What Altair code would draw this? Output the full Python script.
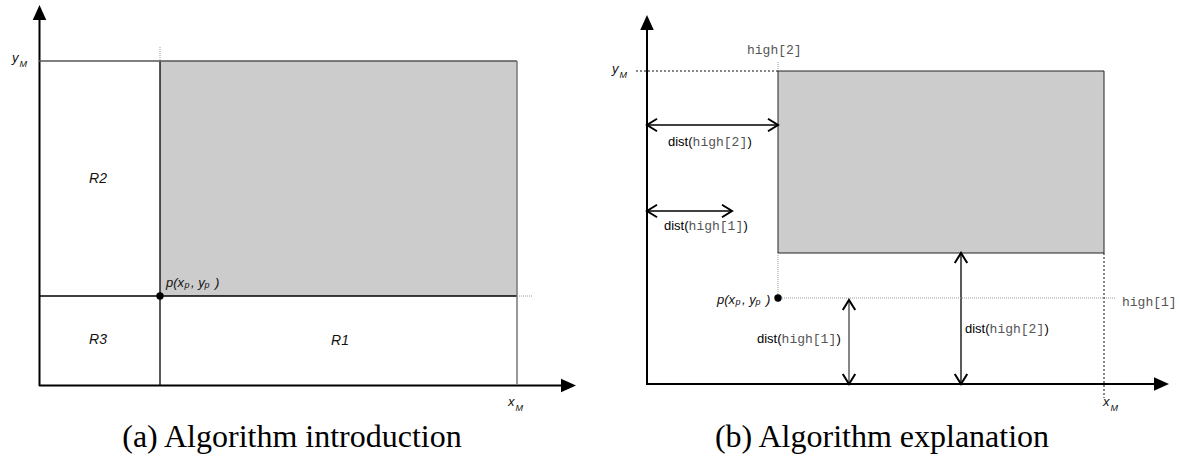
import altair as alt
import pandas as pd

W, H = 1181, 459

# ---- diagram geometry (canvas units, y grows downwards) ----
# panel (a): region split around p
a_px, a_py = 160, 296          # point p
a_xm, a_ym = 517, 61           # x_M, y_M

# panel (b): dominance distances
b_rect = [778, 71, 1104, 253]  # x1, y1, x2, y2 of the shaded box
b_px, b_py = 778, 298

# line segments: x, y, x2, y2, style
seg_x1 = [39.5, 39, 39, 39, 160, 517, 517, 160,
          647, 647, 636, 1104, 778, 778, 778, 648, 648, 849, 961]
seg_y1 = [386, 385.5, 61, 296, 61, 61, 296, 47,
          385, 384, 71, 253, 62, 253, 298, 125, 211, 301, 254]
seg_x2 = [39.5, 566, 517, 517, 160, 517, 533, 160,
          647, 1158, 778, 1104, 778, 778, 1116, 777, 731, 849, 961]
seg_y2 = [15, 385.5, 61, 296, 385, 385, 296, 61,
          25, 384, 71, 398, 71, 298, 298, 125, 211, 383, 383]
seg_style = ["axis", "axis", "gray", "solid", "solid", "lgray", "dotlight", "dotlight",
             "axis", "axis", "dotdark", "dotdark", "dotlight", "dotlight", "dotlight",
             "solid", "solid", "mid", "solid"]

# filled arrow heads on the axes: tip x, tip y, angle
head_x = [39.5, 576, 647, 1169]
head_y = [5, 385.5, 15, 384]
head_a = [270, 0, 270, 0]

# open arrow heads of the distance arrows: tip x, tip y, angle
chev_x = [647, 778, 647, 732, 849, 849, 961, 961]
chev_y = [125, 125, 211, 211, 300, 384, 253, 384]
chev_a = [0, 180, 0, 180, 90, 270, 90, 270]

# region labels
reg_text = ["R2", "R3", "R1"]
reg_x = [98, 98, 340]
reg_y = [179, 340, 341]

# dist(...) labels: left x, centre y, argument
dist_x = [668, 664, 757, 965]
dist_y = [142, 226, 339, 329]
dist_arg = ["high[2]", "high[1]", "high[1]", "high[2]"]

# standalone identifiers
ident_text = ["high[2]", "high[1]"]
ident_x = [747, 1122]
ident_y = [50, 302]

# p(x_p , y_p) labels: left x, centre y
p_x = [166, 717]
p_y = [283, 300]

# axis extremes: letter, left x, centre y
ext_letter = ["y", "x", "y", "x"]
ext_x = [12, 508, 612, 1103]
ext_y = [58, 402, 69, 402]

captions = ["(a) Algorithm introduction", "(b) Algorithm explanation"]
cap_x = [292, 882]
cap_y = [437, 437]

# ---- scales: one canvas unit per pixel ----
X = lambda f: alt.X(f, type="quantitative", scale=alt.Scale(domain=[0, W], nice=False, zero=False), axis=None)
Y = lambda f: alt.Y(f, type="quantitative", scale=alt.Scale(domain=[H, 0], nice=False, zero=False), axis=None)
X2 = lambda f: alt.X2(f)
Y2 = lambda f: alt.Y2(f)

segs = pd.DataFrame(dict(x=seg_x1, y=seg_y1, x2=seg_x2, y2=seg_y2, s=seg_style))

styles = {
    "axis": dict(color="#000000", strokeWidth=2),
    "solid": dict(color="#000000", strokeWidth=1.3),
    "mid": dict(color="#444444", strokeWidth=1.3),
    "gray": dict(color="#555555", strokeWidth=1.5),
    "lgray": dict(color="#777777", strokeWidth=1.5),
    "dotlight": dict(color="#9a9a9a", strokeWidth=1, strokeDash=[1, 1]),
    "dotdark": dict(color="#111111", strokeWidth=1, strokeDash=[2, 2]),
}

layers = []

# shaded rectangles
rects = pd.DataFrame(dict(x=[a_px, b_rect[0]], y=[a_ym, b_rect[1]],
                          x2=[a_xm, b_rect[2]], y2=[a_py, b_rect[3]], k=["a", "b"]))
layers.append(alt.Chart(rects[rects.k == "a"]).mark_rect(color="#cccccc").encode(
    x=X("x"), y=Y("y"), x2=X2("x2"), y2=Y2("y2")))
layers.append(alt.Chart(rects[rects.k == "b"]).mark_rect(
    color="#cccccc", stroke="#222222", strokeWidth=1).encode(
    x=X("x"), y=Y("y"), x2=X2("x2"), y2=Y2("y2")))

for name, st in styles.items():
    d = segs[segs.s == name]
    if len(d) == 0:
        continue
    layers.append(alt.Chart(d).mark_rule(**st).encode(
        x=X("x"), y=Y("y"), x2=X2("x2"), y2=Y2("y2")))

# arrow heads (path scaled by sqrt(size)/2)
heads = pd.DataFrame(dict(x=head_x, y=head_y, a=head_a))
layers.append(alt.Chart(heads).mark_point(
    shape="M0,0L-2,-0.9L-2,0.9Z", size=225, filled=True, color="#000000", opacity=1,
    strokeWidth=0).encode(x=X("x"), y=Y("y"), angle=alt.Angle("a:Q", scale=None)))

chev = pd.DataFrame(dict(x=chev_x, y=chev_y, a=chev_a))
layers.append(alt.Chart(chev).mark_point(
    shape="M2,-1.25L0,0L2,1.25", size=100, filled=False, color="#000000", opacity=1,
    strokeWidth=2).encode(x=X("x"), y=Y("y"), angle=alt.Angle("a:Q", scale=None)))

# points p
pts = pd.DataFrame(dict(x=[a_px, b_px], y=[a_py, b_py]))
layers.append(alt.Chart(pts).mark_circle(size=55, color="#000000", opacity=1).encode(
    x=X("x"), y=Y("y")))


def text_layer(df, **kw):
    base = dict(align="left", baseline="middle")
    base.update(kw)
    return alt.Chart(df).mark_text(**base).encode(x=X("x"), y=Y("y"), text="t:N")


SANS, MONO, SERIF = "Liberation Sans", "Liberation Mono", "Liberation Serif"

# region labels
layers.append(text_layer(pd.DataFrame(dict(x=reg_x, y=reg_y, t=reg_text)),
                         align="center", font=SANS, fontStyle="italic", fontSize=14,
                         color="#111111"))

# dist(...) labels in three pieces: sans / mono / sans
d_open = pd.DataFrame(dict(x=dist_x, y=dist_y, t=["dist("] * len(dist_x)))
d_arg = pd.DataFrame(dict(x=[v + 24.6 for v in dist_x], y=dist_y, t=dist_arg))
d_close = pd.DataFrame(dict(x=[v + 79.4 for v in dist_x], y=dist_y, t=[")"] * len(dist_x)))
layers.append(text_layer(d_open, font=SANS, fontSize=13, color="#000000"))
layers.append(text_layer(d_close, font=SANS, fontSize=13, color="#000000"))
layers.append(text_layer(d_arg, font=MONO, fontSize=13, color="#555555"))

layers.append(text_layer(pd.DataFrame(dict(x=ident_x, y=ident_y, t=ident_text)),
                         font=MONO, fontSize=13, color="#555555"))

# p(x_p , y_p): main pieces and subscripts
p_main = pd.DataFrame(dict(
    x=[v + o for v in p_x for o in (0, 25, 49)],
    y=[v for v in p_y for _ in range(3)],
    t=["p(x", ", y", ")"] * len(p_x)))
p_sub = pd.DataFrame(dict(
    x=[v + o for v in p_x for o in (18.5, 38.5)],
    y=[v + 2 for v in p_y for _ in range(2)],
    t=["p", "p"] * len(p_x)))
layers.append(text_layer(p_main, font=SANS, fontStyle="italic", fontSize=13, color="#111111"))
layers.append(text_layer(p_sub, font=SANS, fontStyle="italic", fontSize=9, color="#111111"))

# x_M / y_M
e_main = pd.DataFrame(dict(x=ext_x, y=ext_y, t=ext_letter))
e_sub = pd.DataFrame(dict(x=[v + 7.5 for v in ext_x], y=[v + 5.5 for v in ext_y],
                          t=["M"] * len(ext_x)))
layers.append(text_layer(e_main, font=SANS, fontStyle="italic", fontSize=13, color="#111111"))
layers.append(text_layer(e_sub, font=SANS, fontStyle="italic", fontSize=9, color="#111111"))

# captions
layers.append(text_layer(pd.DataFrame(dict(x=cap_x, y=cap_y, t=captions)),
                         align="center", font=SERIF, fontSize=32, color="#000000"))

chart = alt.layer(*layers).properties(
    width=W, height=H, padding=0, autosize=alt.AutoSizeParams(type="none"),
    background="white"
).configure_view(stroke=None)

chart.save("out.html", embed_options={"renderer": "svg", "actions": False})
